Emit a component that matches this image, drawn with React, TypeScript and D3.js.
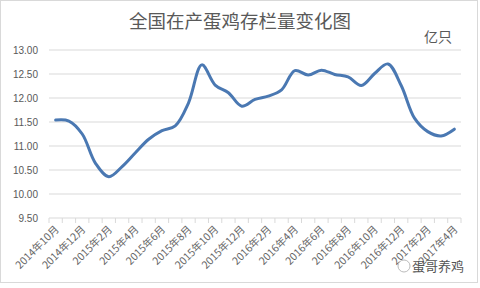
import React from "react";
import * as d3 from "d3";

const months = [
  "2014年10月","2014年11月","2014年12月",
  "2015年1月","2015年2月","2015年3月","2015年4月","2015年5月","2015年6月","2015年7月","2015年8月","2015年9月","2015年10月","2015年11月","2015年12月",
  "2016年1月","2016年2月","2016年3月","2016年4月","2016年5月","2016年6月","2016年7月","2016年8月","2016年9月","2016年10月","2016年11月","2016年12月",
  "2017年1月","2017年2月","2017年3月","2017年4月",
];
const values = [
  11.54, 11.52, 11.25,
  10.64, 10.36, 10.57, 10.86, 11.14, 11.32, 11.42, 11.9, 12.69, 12.27, 12.11, 11.83,
  11.97, 12.04, 12.17, 12.57, 12.48, 12.58, 12.49, 12.44, 12.26, 12.51, 12.71, 12.26,
  11.58, 11.3, 11.21, 11.35,
];
const yTicks = [9.5, 10, 10.5, 11, 11.5, 12, 12.5, 13];
const title = "全国在产蛋鸡存栏量变化图";
const unit = "亿只";
const watermark = "蛋哥养鸡";

const W = 480, H = 288;
const left = 49, right = 461, top = 50, bottom = 218;
const font = "'Noto Sans CJK SC', 'Noto Sans', sans-serif";
const numFont = "'Liberation Sans', 'DejaVu Sans', sans-serif";

export default function App() {
  const x = d3.scaleBand<number>().domain(d3.range(months.length)).range([left, right]).padding(0);
  const y = d3.scaleLinear().domain([9.5, 13]).range([bottom, top]);
  const cx = (i: number) => (x(i) as number) + x.bandwidth() / 2;
  const line = d3.line<number>().x((_, i) => cx(i)).y((d) => y(d)).curve(d3.curveCatmullRom.alpha(0.5));
  const tickXs = d3.range(months.length + 1).map((k) => left + k * x.bandwidth());

  return (
    <svg width={W} height={H} style={{ position: "absolute", left: 0, top: 0, background: "#fff" }}>
      <rect x={0.5} y={0.5} width={477} height={282} fill="#fff" stroke="#d9d9d9" />
      <text x={240} y={28} textAnchor="middle" fontFamily={font} fontSize={18.5} fill="#595959">{title}</text>
      <text x={452} y={42} textAnchor="end" fontFamily={font} fontSize={14} fill="#595959">{unit}</text>
      {yTicks.map((t) => (
        <g key={t}>
          {t > 9.5 && <line x1={left} x2={right} y1={y(t)} y2={y(t)} stroke="#d9d9d9" strokeWidth={1} />}
          <text x={38} y={y(t) + 3.5} textAnchor="end" fontFamily={numFont} fontSize={10} fill="#595959">{t.toFixed(2)}</text>
        </g>
      ))}
      <line x1={left} x2={right} y1={bottom} y2={bottom} stroke="#d9d9d9" />
      {tickXs.map((tx, k) => (
        <line key={k} x1={tx} x2={tx} y1={bottom} y2={bottom + 5} stroke="#d9d9d9" />
      ))}
      {months.map((m, i) =>
        i % 2 === 0 ? (
          <text key={m} transform={`translate(${cx(i) + 4},${bottom + 12}) rotate(-45)`} textAnchor="end" fontFamily={font} fontSize={10.5} fill="#666666">{m}</text>
        ) : null
      )}
      <path d={line(values) || ""} fill="none" stroke="#4a78b2" strokeWidth={3} strokeLinecap="round" strokeLinejoin="round" />
      <g>
        <circle cx={404} cy={266} r={6} fill="#fff" stroke="#bbb" strokeWidth={1} />
        <text x={412} y={271} fontFamily={font} fontSize={13} fill="#555">{watermark}</text>
      </g>
    </svg>
  );
}
